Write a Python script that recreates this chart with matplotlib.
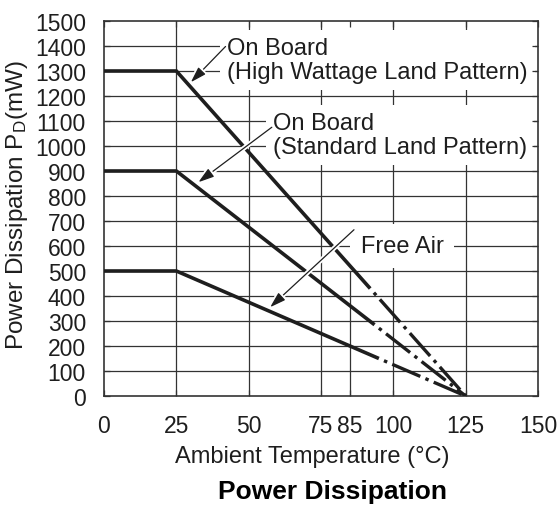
"""
plot.py
-------
Power dissipation derating curves (on board / free air).
"""

import matplotlib.pyplot as plt
from matplotlib import patheffects

plt.rcParams["font.family"] = ["Liberation Sans", "DejaVu Sans"]
plt.rcParams["mathtext.default"] = "regular"
plt.rcParams["lines.scale_dashes"] = False

INK = "#1e1e1e"
GRID = "#333333"

# derating curves: solid part, then dash-dot part down to 125 C
HW_TEMP = [0, 25, 92]
HW_POWER = [1300, 1300, 430]
HW_TAIL_TEMP = [92, 125]
HW_TAIL_POWER = [430, 0]

STD_TEMP = [0, 25, 93.5]
STD_POWER = [900, 900, 285]
STD_TAIL_TEMP = [93.5, 125]
STD_TAIL_POWER = [285, 0]

AIR_TEMP = [0, 25, 95]
AIR_POWER = [500, 500, 150]
AIR_TAIL_TEMP = [95, 125]
AIR_TAIL_POWER = [150, 0]

X_TICKS = [0, 25, 50, 75, 85, 100, 125, 150]
Y_TICKS = list(range(0, 1600, 100))
V_GRID = [25, 50, 75, 100, 125]
V_GRID_SHORT = 85
V_GRID_SHORT_TOP = 500

LABELS = [
    "On Board\n(High Wattage Land Pattern)",
    "On Board\n(Standard Land Pattern)",
    "Free Air",
]
LABEL_X = [42.5, 58.4, 88.8]
LABEL_Y = [1343, 1043, 600]
LABEL_PAD = [0.3, 0.3, 0.45]

ARROW_FROM = [(42.0, 1398), (58.0, 1075), (86.4, 665)]
ARROW_TO = [(30.0, 1255), (32.6, 855), (57.4, 355)]


fig = plt.figure(figsize=(5.58, 5.06), dpi=100)

ax = fig.add_axes([104 / 558, 109 / 506, 434 / 558, 375 / 506])

ax.set_xlim(0, 150)
ax.set_ylim(0, 1500)

# grid
for y in Y_TICKS[1:-1]:
    ax.axhline(y, color=GRID, lw=0.9, zorder=1)

for x in V_GRID:
    ax.axvline(x, color=GRID, lw=0.9, zorder=1)

ax.plot(
    [V_GRID_SHORT, V_GRID_SHORT],
    [0, V_GRID_SHORT_TOP],
    color=GRID,
    lw=0.9,
    zorder=1
)

# curves
dash_dot = (22, (22, 4, 2.5, 4))

for temp, power, t_temp, t_power in [
    (HW_TEMP, HW_POWER, HW_TAIL_TEMP, HW_TAIL_POWER),
    (STD_TEMP, STD_POWER, STD_TAIL_TEMP, STD_TAIL_POWER),
    (AIR_TEMP, AIR_POWER, AIR_TAIL_TEMP, AIR_TAIL_POWER),
]:

    ax.plot(
        temp,
        power,
        color=INK,
        lw=2.6,
        solid_joinstyle="miter",
        solid_capstyle="butt",
        zorder=3
    )

    ax.plot(
        t_temp,
        t_power,
        color=INK,
        lw=2.4,
        linestyle=dash_dot,
        dash_capstyle="butt",
        zorder=3
    )

# labels with white boxes that hide the grid
for text, x, y, pad in zip(LABELS, LABEL_X, LABEL_Y, LABEL_PAD):

    ax.text(
        x,
        y,
        text,
        ha="left",
        va="center",
        fontsize=17,
        color=INK,
        linespacing=1.12,
        zorder=2,
        bbox=dict(
            boxstyle=f"square,pad={pad}",
            facecolor="white",
            edgecolor="none"
        )
    )

halo = [patheffects.withStroke(linewidth=3.5, foreground="white")]

for start, tip in zip(ARROW_FROM, ARROW_TO):

    ax.annotate(
        "",
        xy=tip,
        xytext=start,
        zorder=4,
        arrowprops=dict(
            arrowstyle="-|>,head_length=0.8,head_width=0.25",
            color=INK,
            lw=0.9,
            shrinkA=0,
            shrinkB=0,
            mutation_scale=12,
            path_effects=halo
        )
    )

ax.set_xticks(X_TICKS)
ax.set_yticks(Y_TICKS)

ax.tick_params(
    direction="in",
    top=True,
    right=True,
    length=4,
    width=0.9,
    color=GRID,
    labelsize=16.5,
    labelcolor=INK,
    pad=13
)

ax.set_axisbelow(False)

for spine in ax.spines.values():
    spine.set_linewidth(1.2)
    spine.set_color(GRID)

fig.text(
    312.5 / 558,
    1 - 463 / 506,
    "Ambient Temperature (\u00b0C)",
    ha="center",
    va="baseline",
    fontsize=17,
    color=INK
)

fig.text(
    17 / 558,
    1 - 205 / 506,
    "Power Dissipation P$_{D}$(mW)",
    rotation=90,
    ha="center",
    va="center",
    fontsize=17.5,
    color=INK
)

fig.text(
    332 / 558,
    1 - 499 / 506,
    "Power Dissipation",
    ha="center",
    va="baseline",
    fontsize=19,
    fontweight="bold",
    color="black"
)

fig.savefig("out.png", dpi=100)
